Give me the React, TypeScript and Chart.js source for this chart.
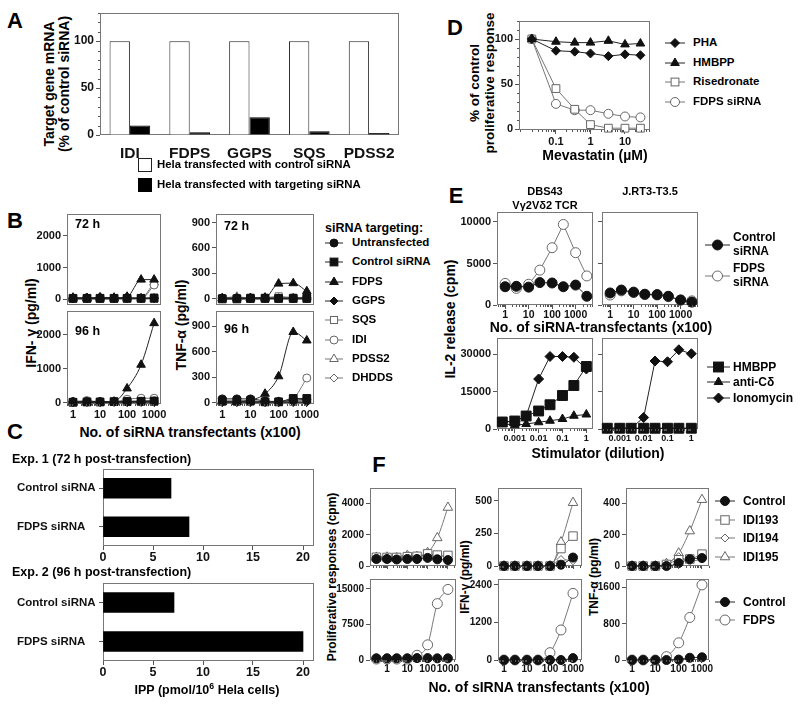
import React, { useEffect, useRef } from "react";
import { Chart, registerables } from "chart.js";

const FONT = "'Liberation Sans', Arial, Helvetica, sans-serif";

// ---------------- DATA ----------------
// Panel A
const A_GENES = ["IDI", "FDPS", "GGPS", "SQS", "PDSS2"];
const A_CONTROL = [100, 100, 100, 100, 100];
const A_TARGETING = [10, 3, 19, 4, 2];
const A_Y_TICKS = [0, 50, 100];

// Panel B (series order: Untransfected, Control siRNA, FDPS, GGPS, SQS, IDI, PDSS2, DHDDS)
const B_SERIES = ["Untransfected", "Control siRNA", "FDPS", "GGPS", "SQS", "IDI", "PDSS2", "DHDDS"];
const B_X = [1, 3.3, 10, 33, 100, 330, 1000];
const B_X_TICKS = [1, 10, 100, 1000];
const B_IFN_TICKS = [0, 1000, 2000];
const B_TNF_TICKS = [0, 300, 600, 900];
const B_IFN_72H = [
  [40, 40, 50, 40, 50, 40, 40],
  [30, 30, 30, 30, 30, 30, 30],
  [50, 40, 60, 50, 80, 620, 620],
  [20, 20, 20, 20, 20, 20, 20],
  [10, 10, 10, 10, 20, 20, 60],
  [20, 20, 20, 20, 30, 20, 450],
  [20, 20, 30, 20, 30, 40, 530],
  [10, 10, 10, 10, 10, 10, 20],
];
const B_IFN_96H = [
  [30, 30, 30, 30, 40, 40, 50],
  [10, 20, 20, 30, 30, 40, 40],
  [0, 0, 0, 30, 420, 1120, 2350],
  [10, 10, 10, 10, 10, 10, 10],
  [20, 20, 20, 20, 30, 40, 60],
  [30, 60, 30, 30, 100, 130, 130],
  [10, 20, 10, 10, 40, 40, 40],
  [10, 10, 10, 10, 10, 10, 20],
];
const B_TNF_72H = [
  [10, 10, 10, 10, 10, 10, 10],
  [0, 0, 5, 5, 5, 5, 5],
  [5, 5, 10, 15, 180, 185, 90],
  [0, 0, 0, 0, 0, 0, 0],
  [10, 10, 15, 15, 30, 15, 20],
  [10, 10, 10, 10, 20, 10, 10],
  [10, 25, 10, 10, 10, 10, 20],
  [0, 0, 0, 0, 0, 0, 0],
];
const B_TNF_96H = [
  [45, 45, 45, 20, 15, 30, 40],
  [20, 20, 25, 10, 10, 50, 50],
  [10, 10, 30, 105, 310, 830, 730],
  [5, 5, 5, 5, 5, 5, 5],
  [10, 10, 10, 10, 10, 10, 30],
  [10, 10, 10, 10, 10, 50, 290],
  [10, 10, 10, 10, 10, 20, 20],
  [0, 0, 0, 0, 0, 0, 10],
];

// Panel C
const C_GROUPS = ["Control siRNA", "FDPS siRNA"];
const C_EXP1 = [6.8, 8.6];
const C_EXP2 = [7.1, 20.0];
const C_X_TICKS = [0, 5, 10, 15, 20];

// Panel D
const D_SERIES = ["PHA", "HMBPP", "Risedronate", "FDPS siRNA"];
const D_X = [0.02, 0.1, 0.35, 1, 3.3, 10, 28];
const D_PHA = [100, 87, 86, 84, 81, 83, 82];
const D_HMBPP = [100, 97, 96, 96, 98, 94, 95];
const D_RISEDRONATE = [100, 45, 22, 5, 1, 1, 1];
const D_FDPS = [100, 28, 21, 21, 17, 14, 13];
const D_X_TICKS = [0.1, 1, 10];
const D_Y_TICKS = [0, 50, 100];

// Panel E
const E_TOP_X = [1, 3, 10, 30, 100, 300, 1000, 3000];
const E_DBS_CONTROL = [2200, 2250, 2150, 2700, 2650, 2200, 2400, 1050];
const E_DBS_FDPS = [2600, 2000, 2500, 4200, 6900, 9700, 6300, 3500];
const E_JRT_CONTROL = [1450, 1800, 1550, 1300, 1250, 1050, 600, 350];
const E_JRT_FDPS = [1200, 1700, 1500, 1250, 1200, 1000, 600, 500];
const E_BOT_X = [0.0003, 0.001, 0.003, 0.01, 0.03, 0.1, 0.3, 1];
const E_DBS_HMBPP = [2800, 3200, 5200, 7200, 9700, 13400, 17400, 25000];
const E_DBS_ANTICD = [2200, 1500, 2000, 2700, 3300, 4000, 5300, 5800];
const E_DBS_IONO = [2800, 3000, 5200, 20000, 29000, 29000, 28700, 24000];
const E_JRT_HMBPP = [300, 300, 300, 300, 300, 300, 300, 300];
const E_JRT_ANTICD = [300, 300, 300, 300, 300, 300, 300, 300];
const E_JRT_IONO = [300, 300, 300, 4600, 27200, 26900, 31700, 30100];
const E_TOP_X_TICKS = [1, 10, 100, 1000];
const E_TOP_Y_TICKS = [0, 5000, 10000];
const E_BOT_X_TICKS = [0.001, 0.01, 0.1, 1];
const E_BOT_Y_TICKS = [0, 15000, 30000];

// Panel F
const F_X_PROLIF = [0.3, 1, 3, 10, 30, 100, 300, 1000];
const F_X = [1, 3, 10, 30, 100, 300, 1000];
const F_X_TICKS = [1, 10, 100, 1000];
const F_IDI_SERIES = ["Control", "IDI193", "IDI194", "IDI195"];
const F_PROLIF_IDI = [
  [450, 450, 420, 450, 450, 520, 430, 380],
  [560, 550, 550, 600, 620, 780, 700, 680],
  [600, 620, 580, 720, 620, 750, 650, 600],
  [550, 560, 520, 650, 600, 850, 1800, 3750],
];
const F_IFN_IDI = [
  [0, 0, 0, 0, 0, 10, 65],
  [0, 0, 0, 0, 0, 134, 230],
  [0, 0, 0, 0, 0, 50, 40],
  [0, 0, 0, 0, 0, 184, 487],
];
const F_TNF_IDI = [
  [0, 0, 0, 0, 19, 44, 51],
  [0, 0, 0, 10, 40, 45, 76],
  [0, 0, 0, 10, 60, 30, 45],
  [0, 0, 0, 15, 82, 224, 425],
];
const F_FDPS_SERIES = ["Control", "FDPS"];
const F_PROLIF_FDPS = [
  [350, 350, 350, 350, 400, 400, 350, 350],
  [200, 200, 200, 200, 1000, 3200, 11900, 14900],
];
const F_IFN_FDPS = [
  [0, 0, 0, 0, 0, 0, 60],
  [0, 0, 0, 0, 235, 960, 2130],
];
const F_TNF_FDPS = [
  [0, 0, 0, 0, 10, 50, 60],
  [0, 0, 0, 75, 380, 940, 1660],
];

// ---------------- STYLES ----------------
type St = { shape: string; r: number; fill: string; stroke: string; line: string };
const BLK = "#111";
const GRY = "#666";
const LG = "#777";
const st = (shape: string, r: number, open: boolean): St => ({
  shape,
  r,
  fill: open ? "#fff" : BLK,
  stroke: open ? GRY : BLK,
  line: open ? LG : "#222",
});
const B_STYLES: St[] = [
  st("circle", 4, false),
  st("rect", 5.5, false),
  st("triangle", 5, false),
  st("rectRot", 4, false),
  st("rect", 5, true),
  st("circle", 4, true),
  st("triangle", 5, true),
  st("rectRot", 4, true),
];
const D_STYLES: St[] = [st("rectRot", 4.5, false), st("triangle", 5, false), st("rect", 5.5, true), st("circle", 4.5, true)];
const E_TOP_STYLES: St[] = [st("circle", 5, false), st("circle", 5, true)];
const E_BOT_STYLES: St[] = [st("rect", 7, false), st("triangle", 5, false), st("rectRot", 5, false)];
const F_IDI_STYLES: St[] = [st("circle", 4.5, false), st("rect", 6, true), st("rectRot", 4, true), st("triangle", 5.5, true)];
const F_FDPS_STYLES: St[] = [st("circle", 4.5, false), st("circle", 5, true)];

// ---------------- PLUGINS ----------------
const framePlugin = {
  id: "frame",
  beforeDatasetsDraw(chart: any, _a: any, opts: any) {
    if (!opts || !opts.color) return;
    const { ctx, chartArea: a } = chart;
    ctx.save();
    ctx.strokeStyle = opts.color;
    ctx.lineWidth = 1;
    ctx.strokeRect(Math.round(a.left) + 0.5, Math.round(a.top) + 0.5, Math.round(a.right - a.left) - 1, Math.round(a.bottom - a.top) - 1);
    ctx.restore();
  },
};
const minorPlugin = {
  id: "minor",
  afterDraw(chart: any, _a: any, opts: any) {
    if (!opts || (!opts.xlog && !opts.ystep)) return;
    const ctx = chart.ctx;
    const a = chart.chartArea;
    const len = opts.len || 2;
    ctx.save();
    ctx.strokeStyle = "#555";
    ctx.lineWidth = 1;
    if (opts.xlog) {
      const s = chart.scales.x;
      const lo = Math.floor(Math.log10(s.min));
      const hi = Math.ceil(Math.log10(s.max));
      for (let d = lo; d <= hi; d++) {
        for (let k = 2; k <= 9; k++) {
          const v = k * Math.pow(10, d);
          if (v < s.min || v > s.max) continue;
          const px = Math.round(s.getPixelForValue(v)) + 0.5;
          ctx.beginPath();
          ctx.moveTo(px, a.bottom);
          ctx.lineTo(px, a.bottom + len);
          ctx.stroke();
        }
      }
    }
    if (opts.ystep) {
      const s = chart.scales.y;
      for (let v = Math.ceil(s.min / opts.ystep) * opts.ystep; v <= s.max; v += opts.ystep) {
        const py = Math.round(s.getPixelForValue(v)) + 0.5;
        ctx.beginPath();
        ctx.moveTo(a.left, py);
        ctx.lineTo(a.left - len, py);
        ctx.stroke();
      }
    }
    ctx.restore();
  },
};
Chart.register(...registerables, framePlugin, minorPlugin);

// ---------------- HELPERS ----------------
type Ax = {
  type: "linear" | "logarithmic" | "category";
  min?: number;
  max?: number;
  ticks?: number[];
  labels?: boolean;
  font?: number;
  pad?: number;
  tickLen?: number;
  marks?: boolean;
  far?: boolean;
};

function scale(a: Ax, isX: boolean, size: number) {
  const o: any = {
    type: a.type,
    afterFit: (s: any) => {
      if (isX) s.height = size;
      else s.width = size;
      s.paddingLeft = 0;
      s.paddingRight = 0;
      s.paddingTop = 0;
      s.paddingBottom = 0;
    },
    ticks: {
      display: a.labels !== false,
      font: { family: FONT, size: a.font ?? 11, weight: "bold" },
      color: "#111",
      padding: a.pad ?? 2,
      autoSkip: false,
      maxRotation: 0,
      minRotation: 0,
      crossAlign: a.far ? "far" : "near",
    },
    grid: {
      display: a.marks !== false,
      drawOnChartArea: false,
      drawTicks: true,
      tickLength: a.tickLen ?? 4,
      color: "#555",
      lineWidth: 1,
      offset: false,
    },
    border: { display: false },
  };
  if (a.min !== undefined) o.min = a.min;
  if (a.max !== undefined) o.max = a.max;
  if (a.type !== "category") {
    o.ticks.callback = (v: any) => String(v);
    if (a.ticks) {
      const t = a.ticks;
      o.afterBuildTicks = (s: any) => {
        s.ticks = t.map((v) => ({ value: v }));
      };
    }
  }
  return o;
}

function ds(xs: number[], ys: number[], s: St, curve = false) {
  return {
    data: xs.map((x, i) => ({ x, y: ys[i] })),
    borderColor: s.line,
    borderWidth: 1,
    pointStyle: s.shape,
    pointRadius: s.r,
    pointHoverRadius: s.r,
    pointBackgroundColor: s.fill,
    pointBorderColor: s.stroke,
    pointBorderWidth: 1,
    tension: curve ? 0.4 : 0,
    cubicInterpolationMode: curve ? "monotone" : "default",
    clip: false,
    fill: false,
  };
}

type Box = { l: number; t: number; r: number; b: number; padL: number; padB: number; padT?: number; padR?: number };

function lineCfg(box: Box, xa: Ax, ya: Ax, datasets: any[], minor: any = {}) {
  return {
    type: "line",
    data: { datasets },
    options: {
      plugins: { legend: { display: false }, tooltip: { enabled: false }, frame: { color: "#777" }, minor },
      scales: { x: scale(xa, true, box.padB), y: scale(ya, false, box.padL) },
    },
  };
}

function ChartBox({ box, make }: { box: Box; make: () => any }) {
  const ref = useRef<HTMLCanvasElement | null>(null);
  const padT = box.padT ?? 8;
  const padR = box.padR ?? 8;
  const w = box.r - box.l + box.padL + padR;
  const h = box.b - box.t + padT + box.padB;
  useEffect(() => {
    const cfg = make();
    cfg.options.responsive = false;
    cfg.options.maintainAspectRatio = false;
    cfg.options.animation = false;
    cfg.options.events = [];
    cfg.options.layout = { padding: { left: 0, top: padT, right: padR, bottom: 0 } };
    const ch = new Chart(ref.current as HTMLCanvasElement, cfg);
    return () => ch.destroy();
  }, []);
  return (
    <canvas
      ref={ref}
      width={w}
      height={h}
      style={{ position: "absolute", left: box.l - box.padL, top: box.t - padT, width: w, height: h }}
    />
  );
}

function Txt({ x, y, size = 12, anchor = "left", rotate = false, children }: any) {
  let tf = "translate(0,-50%)";
  if (rotate) tf = "translate(-50%,-50%) rotate(-90deg)";
  else if (anchor === "center") tf = "translate(-50%,-50%)";
  else if (anchor === "right") tf = "translate(-100%,-50%)";
  return (
    <div
      style={{
        position: "absolute",
        left: x,
        top: y,
        transform: tf,
        fontFamily: FONT,
        fontSize: size,
        fontWeight: "bold",
        lineHeight: 1,
        whiteSpace: "nowrap",
        color: "#000",
      }}
    >
      {children}
    </div>
  );
}

function shapeSvg(s: St, cx: number, cy: number) {
  const common = { fill: s.fill, stroke: s.stroke, strokeWidth: 1 };
  if (s.shape === "circle") return <circle cx={cx} cy={cy} r={s.r} {...common} />;
  if (s.shape === "rect") {
    const h = s.r * Math.SQRT1_2;
    return <rect x={cx - h} y={cy - h} width={2 * h} height={2 * h} {...common} />;
  }
  if (s.shape === "triangle") {
    const r = s.r;
    const pts = [0, 1, 2]
      .map((i) => {
        const ang = (i * 2 * Math.PI) / 3;
        return `${cx + Math.sin(ang) * r},${cy - Math.cos(ang) * r}`;
      })
      .join(" ");
    return <polygon points={pts} {...common} />;
  }
  const r = s.r;
  return <polygon points={`${cx},${cy - r} ${cx + r},${cy} ${cx},${cy + r} ${cx - r},${cy}`} {...common} />;
}

function LegendItem({ x1, x2, y, tx, s, size = 12, children }: any) {
  const w = x2 - x1;
  return (
    <>
      <svg style={{ position: "absolute", left: x1, top: y - 8, overflow: "visible" }} width={w} height={16}>
        <line x1={0} y1={8} x2={w} y2={8} stroke={s.line} strokeWidth={1} />
        {shapeSvg(s, w / 2, 8)}
      </svg>
      {children !== undefined ? (
        <Txt x={tx} y={y} size={size}>
          {children}
        </Txt>
      ) : null}
    </>
  );
}

// ---------------- BOXES ----------------
const BOX_A: Box = { l: 100, t: 13, r: 399, b: 135, padL: 40, padB: 30 };
const BOX_B_IFN72: Box = { l: 67, t: 214, r: 161, b: 311, padL: 40, padB: 0 };
const BOX_B_IFN96: Box = { l: 67, t: 311, r: 161, b: 404, padL: 40, padB: 20 };
const BOX_B_TNF72: Box = { l: 216, t: 214, r: 314, b: 311, padL: 30, padB: 0 };
const BOX_B_TNF96: Box = { l: 216, t: 311, r: 314, b: 404, padL: 30, padB: 20 };
const BOX_C1: Box = { l: 103, t: 469, r: 314, b: 546, padL: 86, padB: 20 };
const BOX_C2: Box = { l: 103, t: 583, r: 314, b: 661, padL: 86, padB: 20 };
const BOX_D: Box = { l: 519, t: 21, r: 650, b: 130, padL: 30, padB: 22 };
const BOX_E1: Box = { l: 497, t: 212, r: 593, b: 305, padL: 40, padB: 18 };
const BOX_E2: Box = { l: 602, t: 212, r: 698, b: 305, padL: 10, padB: 18 };
const BOX_E3: Box = { l: 497, t: 338, r: 593, b: 429, padL: 40, padB: 18 };
const BOX_E4: Box = { l: 602, t: 338, r: 698, b: 429, padL: 10, padB: 18 };
const BOX_F: Box[] = [
  { l: 370, t: 488, r: 456, b: 567, padL: 36, padB: 6 },
  { l: 498, t: 488, r: 582, b: 567, padL: 36, padB: 6 },
  { l: 626, t: 488, r: 709, b: 567, padL: 36, padB: 6 },
  { l: 370, t: 579, r: 456, b: 660, padL: 36, padB: 18 },
  { l: 498, t: 579, r: 582, b: 660, padL: 36, padB: 18 },
  { l: 626, t: 579, r: 709, b: 660, padL: 36, padB: 18 },
];

// ---------------- CONFIG MAKERS ----------------
const makeA = () => ({
  type: "bar",
  data: {
    labels: A_GENES,
    datasets: [
      { data: A_CONTROL, backgroundColor: "#fff", borderColor: "#222", borderWidth: 1, categoryPercentage: 0.68, barPercentage: 1 },
      { data: A_TARGETING, backgroundColor: "#000", borderColor: "#000", borderWidth: 1, categoryPercentage: 0.68, barPercentage: 1 },
    ],
  },
  options: {
    plugins: { legend: { display: false }, tooltip: { enabled: false }, frame: { color: "#777" }, minor: { ystep: 10, len: 2 } },
    scales: {
      x: scale({ type: "category", font: 15.5, pad: 5, marks: false }, true, BOX_A.padB),
      y: scale({ type: "linear", min: 0, max: 130, ticks: A_Y_TICKS, font: 12 }, false, BOX_A.padL),
    },
  },
});

const makeB = (box: Box, rows: number[][], ymin: number, ymax: number, yt: number[], labels: boolean) => () =>
  lineCfg(
    box,
    { type: "logarithmic", min: 0.6, max: 1800, ticks: B_X_TICKS, labels, marks: labels, font: 11, pad: 1, tickLen: 3 },
    { type: "linear", min: ymin, max: ymax, ticks: yt, font: 11 },
    rows.map((r, i) => ds(B_X, r, B_STYLES[i], true)),
    labels ? { xlog: true, len: 2 } : {}
  );

const makeC = (box: Box, vals: number[]) => () => ({
  type: "bar",
  data: {
    labels: C_GROUPS,
    datasets: [{ data: vals, backgroundColor: "#000", borderColor: "#000", borderWidth: 0, barThickness: 20 }],
  },
  options: {
    indexAxis: "y",
    plugins: { legend: { display: false }, tooltip: { enabled: false }, frame: { color: "#777" } },
    scales: {
      x: scale({ type: "linear", min: 0, max: 21.1, ticks: C_X_TICKS, font: 12.5, pad: 0 }, true, box.padB),
      y: scale({ type: "category", font: 11.5, far: true }, false, box.padL),
    },
  },
});

const makeD = () =>
  lineCfg(
    BOX_D,
    { type: "logarithmic", min: 0.0085, max: 53, ticks: D_X_TICKS, font: 11, pad: 1 },
    { type: "linear", min: -1, max: 120, ticks: D_Y_TICKS, font: 11 },
    [ds(D_X, D_PHA, D_STYLES[0]), ds(D_X, D_HMBPP, D_STYLES[1]), ds(D_X, D_RISEDRONATE, D_STYLES[2]), ds(D_X, D_FDPS, D_STYLES[3])],
    { xlog: true, ystep: 10, len: 2 }
  );

const makeETop = (box: Box, ctrl: number[], fdps: number[], ylabels: boolean) => () =>
  lineCfg(
    box,
    { type: "logarithmic", min: 0.45, max: 5500, ticks: E_TOP_X_TICKS, font: 10.5, pad: 0 },
    { type: "linear", min: 0, max: 11200, ticks: E_TOP_Y_TICKS, font: 11, labels: ylabels },
    [ds(E_TOP_X, ctrl, E_TOP_STYLES[0]), ds(E_TOP_X, fdps, E_TOP_STYLES[1])],
    { xlog: true, len: 2 }
  );

const makeEBot = (box: Box, h: number[], a: number[], io: number[], ylabels: boolean) => () =>
  lineCfg(
    box,
    { type: "logarithmic", min: 0.00018, max: 1.9, ticks: E_BOT_X_TICKS, font: 9, pad: 0 },
    { type: "linear", min: 0, max: 36400, ticks: E_BOT_Y_TICKS, font: 11, labels: ylabels },
    [ds(E_BOT_X, h, E_BOT_STYLES[0]), ds(E_BOT_X, a, E_BOT_STYLES[1]), ds(E_BOT_X, io, E_BOT_STYLES[2])],
    { xlog: true, len: 2 }
  );

const makeF = (box: Box, xs: number[], xmin: number, xmax: number, rows: number[][], styles: St[], ymax: number, yt: number[], xlabels: boolean) => () =>
  lineCfg(
    box,
    { type: "logarithmic", min: xmin, max: xmax, ticks: F_X_TICKS, font: 10, pad: 0, labels: xlabels, tickLen: 3 },
    { type: "linear", min: 0, max: ymax, ticks: yt, font: 10 },
    rows.map((r, i) => ds(xs, r, styles[i], true)),
    { xlog: true, len: 2 }
  );

// ---------------- APP ----------------
export default function App() {
  const L = 22;
  return (
    <div style={{ position: "absolute", left: 0, top: 0, width: 800, height: 706, background: "#fff", overflow: "hidden" }}>
      {/* Panel letters */}
      <Txt x={15} y={21} size={L} anchor="center">A</Txt>
      <Txt x={15} y={221} size={L} anchor="center">B</Txt>
      <Txt x={15} y={432} size={L} anchor="center">C</Txt>
      <Txt x={455} y={28} size={L} anchor="center">D</Txt>
      <Txt x={456} y={196} size={L} anchor="center">E</Txt>
      <Txt x={379} y={465} size={L} anchor="center">F</Txt>

      {/* Panel A */}
      <Txt x={49} y={84} size={14} rotate>Target gene mRNA</Txt>
      <Txt x={64} y={84} size={14} rotate>(% of control siRNA)</Txt>
      <ChartBox box={BOX_A} make={makeA} />
      <div style={{ position: "absolute", left: 138, top: 158, width: 12, height: 12, border: "1px solid #222", background: "#fff" }} />
      <div style={{ position: "absolute", left: 138, top: 178, width: 12, height: 12, border: "1px solid #000", background: "#000" }} />
      <Txt x={157} y={165} size={11.4}>Hela transfected with control siRNA</Txt>
      <Txt x={157} y={185} size={11.4}>Hela transfected with targeting siRNA</Txt>

      {/* Panel B */}
      <Txt x={31} y={323} size={14} rotate>IFN- γ (pg/ml)</Txt>
      <Txt x={181} y={325} size={14} rotate>TNF-α (pg/ml)</Txt>
      <ChartBox box={BOX_B_IFN72} make={makeB(BOX_B_IFN72, B_IFN_72H, -165, 2690, B_IFN_TICKS, false)} />
      <ChartBox box={BOX_B_IFN96} make={makeB(BOX_B_IFN96, B_IFN_96H, -40, 2709, B_IFN_TICKS, true)} />
      <ChartBox box={BOX_B_TNF72} make={makeB(BOX_B_TNF72, B_TNF_72H, -66, 1000, B_TNF_TICKS, false)} />
      <ChartBox box={BOX_B_TNF96} make={makeB(BOX_B_TNF96, B_TNF_96H, -15, 1076, B_TNF_TICKS, true)} />
      <Txt x={75} y={224} size={12.5}>72 h</Txt>
      <Txt x={75} y={331} size={12.5}>96 h</Txt>
      <Txt x={224} y={226} size={12.5}>72 h</Txt>
      <Txt x={224} y={329} size={12.5}>96 h</Txt>
      <Txt x={190} y={432} size={14} anchor="center">No. of siRNA transfectants (x100)</Txt>
      <Txt x={325} y={228} size={12.5}>siRNA targeting:</Txt>
      {B_SERIES.map((name, i) => (
        <LegendItem key={name} x1={325} x2={343} y={243 + i * 19.3} tx={352} s={B_STYLES[i]} size={11.5}>
          {name}
        </LegendItem>
      ))}

      {/* Panel C */}
      <Txt x={12} y={459} size={12.5}>Exp. 1 (72 h post-transfection)</Txt>
      <ChartBox box={BOX_C1} make={makeC(BOX_C1, C_EXP1)} />
      <Txt x={12} y={572} size={12.5}>Exp. 2 (96 h post-transfection)</Txt>
      <ChartBox box={BOX_C2} make={makeC(BOX_C2, C_EXP2)} />
      <Txt x={207} y={689} size={12.5} anchor="center">
        IPP (pmol/10<sup style={{ fontSize: "0.7em", verticalAlign: "0.6em" }}>6</sup> Hela cells)
      </Txt>

      {/* Panel D */}
      <Txt x={475} y={83} size={13.5} rotate>% of control</Txt>
      <Txt x={490} y={83} size={13.5} rotate>proliferative response</Txt>
      <ChartBox box={BOX_D} make={makeD} />
      <Txt x={595} y={155} size={14} anchor="center">Mevastatin (µM)</Txt>
      {D_SERIES.map((name, i) => (
        <LegendItem key={name} x1={665} x2={685} y={43 + i * 19.7} tx={693} s={D_STYLES[i]} size={11.5}>
          {name}
        </LegendItem>
      ))}

      {/* Panel E */}
      <Txt x={545} y={191} size={11} anchor="center">DBS43</Txt>
      <Txt x={545} y={205} size={11} anchor="center">Vγ2Vδ2 TCR</Txt>
      <Txt x={650} y={191} size={11} anchor="center">J.RT3-T3.5</Txt>
      <Txt x={450} y={319} size={14} rotate>IL-2 release (cpm)</Txt>
      <ChartBox box={BOX_E1} make={makeETop(BOX_E1, E_DBS_CONTROL, E_DBS_FDPS, true)} />
      <ChartBox box={BOX_E2} make={makeETop(BOX_E2, E_JRT_CONTROL, E_JRT_FDPS, false)} />
      <Txt x={601} y={327} size={14} anchor="center">No. of siRNA-transfectants (x100)</Txt>
      <ChartBox box={BOX_E3} make={makeEBot(BOX_E3, E_DBS_HMBPP, E_DBS_ANTICD, E_DBS_IONO, true)} />
      <ChartBox box={BOX_E4} make={makeEBot(BOX_E4, E_JRT_HMBPP, E_JRT_ANTICD, E_JRT_IONO, false)} />
      <Txt x={598} y={453} size={14} anchor="center">Stimulator (dilution)</Txt>
      <LegendItem x1={705} x2={730} y={245} s={E_TOP_STYLES[0]} />
      <Txt x={733} y={237} size={12}>Control</Txt>
      <Txt x={733} y={251} size={12}>siRNA</Txt>
      <LegendItem x1={705} x2={730} y={276} s={E_TOP_STYLES[1]} />
      <Txt x={733} y={268} size={12}>FDPS</Txt>
      <Txt x={733} y={282} size={12}>siRNA</Txt>
      <LegendItem x1={707} x2={730} y={367} tx={733} s={E_BOT_STYLES[0]} size={12}>HMBPP</LegendItem>
      <LegendItem x1={707} x2={730} y={382} tx={733} s={E_BOT_STYLES[1]} size={12}>anti-Cδ</LegendItem>
      <LegendItem x1={707} x2={730} y={398} tx={733} s={E_BOT_STYLES[2]} size={12}>Ionomycin</LegendItem>

      {/* Panel F */}
      <Txt x={332} y={577} size={12} rotate>Proliferative responses (cpm)</Txt>
      <Txt x={465} y={577} size={12} rotate>IFN-γ (pg/ml)</Txt>
      <Txt x={594} y={577} size={12} rotate>TNF-α (pg/ml)</Txt>
      <ChartBox box={BOX_F[0]} make={makeF(BOX_F[0], F_X_PROLIF, 0.145, 2500, F_PROLIF_IDI, F_IDI_STYLES, 5000, [0, 2000, 4000], false)} />
      <ChartBox box={BOX_F[1]} make={makeF(BOX_F[1], F_X, 0.55, 2460, F_IFN_IDI, F_IDI_STYLES, 600, [0, 250, 500], false)} />
      <ChartBox box={BOX_F[2]} make={makeF(BOX_F[2], F_X, 0.55, 2000, F_TNF_IDI, F_IDI_STYLES, 500, [0, 200, 400], false)} />
      <ChartBox box={BOX_F[3]} make={makeF(BOX_F[3], F_X_PROLIF, 0.145, 2500, F_PROLIF_FDPS, F_FDPS_STYLES, 17100, [0, 7500, 15000], true)} />
      <ChartBox box={BOX_F[4]} make={makeF(BOX_F[4], F_X, 0.55, 2460, F_IFN_FDPS, F_FDPS_STYLES, 2590, [0, 1200, 2400], true)} />
      <ChartBox box={BOX_F[5]} make={makeF(BOX_F[5], F_X, 0.55, 2000, F_TNF_FDPS, F_FDPS_STYLES, 1790, [0, 800, 1600], true)} />
      <Txt x={539} y={687} size={14} anchor="center">No. of sIRNA transfectants (x100)</Txt>
      {F_IDI_SERIES.map((name, i) => (
        <LegendItem key={name} x1={715} x2={735} y={501 + i * 18.7} tx={743} s={F_IDI_STYLES[i]} size={12}>
          {name}
        </LegendItem>
      ))}
      {F_FDPS_SERIES.map((name, i) => (
        <LegendItem key={name} x1={715} x2={735} y={602 + i * 18} tx={743} s={F_FDPS_STYLES[i]} size={12}>
          {name}
        </LegendItem>
      ))}
    </div>
  );
}
